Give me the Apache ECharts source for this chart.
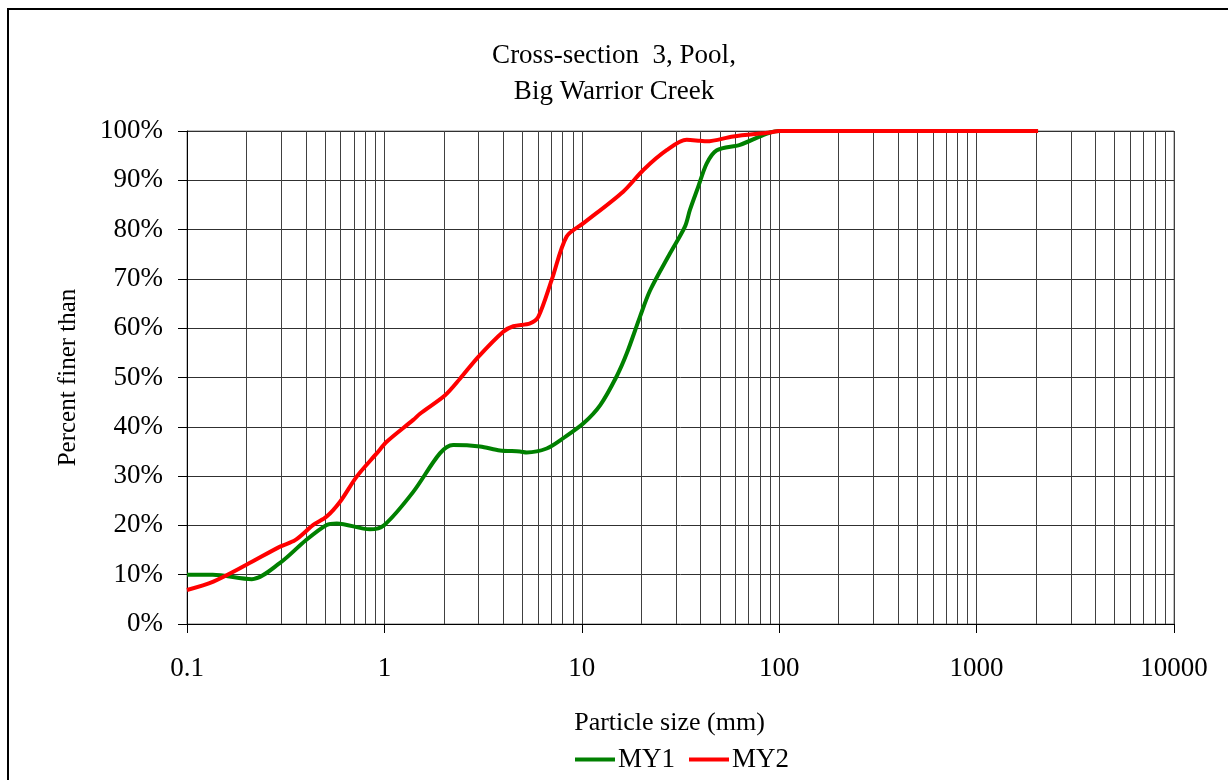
<!DOCTYPE html>
<html>
<head>
<meta charset="utf-8">
<script src="https://cdn.jsdelivr.net/npm/echarts@6/dist/echarts.min.js"></script>
<style>
  html, body { margin: 0; padding: 0; background: #fff; }
  #main { width: 1228px; height: 780px; }
</style>
</head>
<body>
<div id="main"></div>
<script>
// particle size (mm) and percent finer
var sizeMY1 = [0.1, 0.135, 0.213, 0.296, 0.4, 0.51, 0.574, 0.845, 1.0, 1.4, 1.91, 2.23, 3.05, 3.85, 4.86, 5.26, 6.64, 8.06, 10.2, 12.4, 15.0, 16.9, 19.7, 22.2, 28.0, 33.3, 35.3, 38.9, 42.9, 48.3, 63.3, 79.9, 89.8, 100, 2048];
var pctMY1  = [10.0, 10.0, 9.1, 12.4, 17.0, 20.1, 20.4, 19.2, 20.1, 26.8, 34.6, 36.3, 36.0, 35.2, 35.0, 34.8, 35.6, 37.7, 40.7, 44.4, 50.2, 54.9, 62.3, 67.7, 75.2, 80.6, 84.0, 88.7, 93.4, 96.1, 97.2, 98.9, 99.7, 100, 100];

var sizeMY2 = [0.1, 0.136, 0.2, 0.296, 0.353, 0.436, 0.51, 0.596, 0.724, 0.914, 1.03, 1.4, 1.52, 2.03, 2.42, 2.99, 4.0, 4.5, 5.47, 6.02, 7.04, 8.38, 10.2, 16.2, 20.5, 26.9, 34.0, 39.7, 42.9, 58.5, 89.8, 100, 2048];
var pctMY2  = [6.9, 8.6, 12.0, 15.7, 17.0, 20.1, 21.8, 24.8, 29.9, 34.6, 37.0, 41.4, 42.7, 46.4, 49.8, 54.2, 59.3, 60.4, 61.0, 62.3, 69.8, 78.6, 81.3, 87.7, 92.1, 96.1, 98.2, 98.0, 97.9, 98.9, 99.7, 100, 100];

// minor vertical grid lines (2..9 of each decade)
var minorGrid = [];
[0.1, 1, 10, 100, 1000].forEach(function (dec) {
  for (var k = 2; k <= 9; k++) minorGrid.push(+(dec * k).toPrecision(3));
});

function pairs(xs, ys) {
  return xs.map(function (x, i) { return [x, ys[i]]; });
}

var font = '"Liberation Serif", "Times New Roman", serif';
var myChart = echarts.init(document.getElementById('main'));
var option = {
  animation: false,
  backgroundColor: '#fff',
  textStyle: { fontFamily: font, color: '#000' },
  title: {
    text: 'Cross-section  3, Pool,\nBig Warrior Creek',
    left: 'center',
    top: 33,
    textStyle: { fontFamily: font, fontSize: 27, fontWeight: 'normal', color: '#000', lineHeight: 36 }
  },
  legend: {
    data: ['MY1', 'MY2'],
    bottom: 2,
    left: 570,
    icon: 'rect',
    itemWidth: 40,
    itemHeight: 4,
    itemGap: 14,
    textStyle: { fontFamily: font, fontSize: 27, color: '#000', padding: [0, 0, 0, -2] }
  },
  grid: {
    left: 187, right: 54, top: 131, bottom: 156,
    show: true, borderColor: '#808080', borderWidth: 1
  },
  xAxis: {
    type: 'log',
    logBase: 10,
    min: 0.1,
    max: 10000,
    name: 'Particle size (mm)',
    nameLocation: 'middle',
    nameGap: 86,
    nameTextStyle: { fontFamily: font, fontSize: 26, color: '#000', padding: [0, 22, 0, 0] },
    axisLine: { show: true, onZero: false, lineStyle: { color: '#000', width: 1 } },
    axisTick: { show: true, inside: false, length: 9, lineStyle: { color: '#000' } },
    axisLabel: {
      margin: 31, fontFamily: font, fontSize: 27, color: '#000',
      formatter: function (v) { return String(+v.toPrecision(6)); }
    },
    splitLine: { show: true, lineStyle: { color: '#404040', width: 1 } }
  },
  yAxis: {
    type: 'value',
    min: 0,
    max: 100,
    interval: 10,
    name: 'Percent finer than',
    nameLocation: 'middle',
    nameGap: 106,
    nameRotate: 90,
    nameTextStyle: { fontFamily: font, fontSize: 25, color: '#000' },
    axisLine: { show: true, lineStyle: { color: '#000', width: 1 } },
    axisTick: { show: true, inside: false, length: 9, lineStyle: { color: '#000' } },
    axisLabel: { margin: 24, fontFamily: font, fontSize: 27, color: '#000', formatter: '{value}%' },
    splitLine: { show: true, lineStyle: { color: '#303030', width: 1 } }
  },
  graphic: [{
    type: 'polyline',
    shape: { points: [[8, 780], [8, 9], [1228, 9]] },
    style: { stroke: '#000', lineWidth: 2, fill: null },
    silent: true
  }],
  series: [
    {
      name: 'MY1',
      type: 'line',
      data: pairs(sizeMY1, pctMY1),
      smooth: 0.3,
      showSymbol: false,
      lineStyle: { color: '#008000', width: 4 },
      itemStyle: { color: '#008000' },
      z: 3,
      markLine: {
        silent: true,
        symbol: 'none',
        label: { show: false },
        lineStyle: { color: '#404040', width: 1, type: 'solid' },
        data: minorGrid.map(function (v) { return { xAxis: v }; }),
        z: 1
      }
    },
    {
      name: 'MY2',
      type: 'line',
      data: pairs(sizeMY2, pctMY2),
      smooth: 0.3,
      showSymbol: false,
      lineStyle: { color: '#ff0000', width: 4 },
      itemStyle: { color: '#ff0000' },
      z: 4
    }
  ]
};
myChart.setOption(option);
</script>
</body>
</html>
